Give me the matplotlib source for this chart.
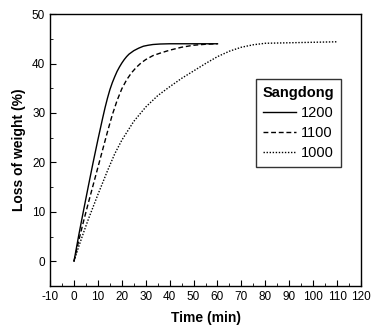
import numpy as np
import matplotlib
matplotlib.use('Agg')
import matplotlib.pyplot as plt
from matplotlib.ticker import MultipleLocator

plt.rcParams['font.family'] = ['Liberation Sans', 'DejaVu Sans']
plt.rcParams['axes.unicode_minus'] = False

# Loss of weight (%) vs time (min), Sangdong ore at three temperatures
t_1200 = [0, 2, 4, 6, 8, 10, 11, 12, 13, 14, 15, 16, 17, 18, 19, 20, 21, 22, 23, 25, 27, 29, 31, 33, 36, 40, 50, 60]
w_1200 = [0, 5.3, 10.3, 15.2, 20.0, 24.6, 26.8, 29.0, 31.1, 33.0, 34.7, 36.1, 37.3, 38.4, 39.3, 40.1, 40.8, 41.4, 41.9, 42.6, 43.1, 43.5, 43.7, 43.85, 43.95, 44.0, 44.0, 44.0]

t_1100 = [0, 2, 4, 6, 8, 10, 12, 14, 16, 18, 20, 22, 24, 26, 28, 30, 33, 36, 40, 45, 50, 55, 60]
w_1100 = [0, 4.2, 8.1, 11.8, 15.4, 19.0, 22.6, 26.2, 29.6, 32.5, 34.9, 36.7, 38.1, 39.2, 40.1, 40.8, 41.6, 42.1, 42.7, 43.3, 43.7, 43.9, 44.0]

t_1000 = [0, 2, 4, 6, 8, 10, 12, 14, 17, 20, 25, 30, 35, 40, 45, 50, 55, 60, 65, 70, 75, 80, 90, 100, 110]
w_1000 = [0, 3, 5.8, 8.5, 11, 13.5, 15.9, 18.3, 21.7, 24.5, 28.3, 31.2, 33.5, 35.3, 37.0, 38.5, 40.0, 41.4, 42.5, 43.3, 43.8, 44.1, 44.2, 44.3, 44.4]

series = [
    ('1200', t_1200, w_1200, '-'),
    ('1100', t_1100, w_1100, (0, (3.5, 2))),
    ('1000', t_1000, w_1000, (0, (1, 1.2))),
]


def main():
    fig = plt.figure(figsize=(3.71, 3.36), dpi=100)
    ax = fig.add_axes([0.135, 0.149, 0.838, 0.809])

    for label, t, w, ls in series:
        ax.plot(t, w, color='black', linestyle=ls, linewidth=1.0, label=label)

    ax.set_xlim(-10, 120)
    ax.set_ylim(-5, 50)
    ax.xaxis.set_major_locator(MultipleLocator(10))
    ax.xaxis.set_minor_locator(MultipleLocator(5))
    ax.yaxis.set_major_locator(MultipleLocator(10))
    ax.yaxis.set_minor_locator(MultipleLocator(5))
    ax.tick_params(which='both', direction='in', labelsize=8.5)
    ax.tick_params(which='major', length=4)
    ax.tick_params(which='minor', length=2)
    for s in ax.spines.values():
        s.set_linewidth(1.0)

    ax.set_xlabel('Time (min)', fontsize=10, fontweight='bold', labelpad=6)
    ax.set_ylabel('Loss of weight (%)', fontsize=10, fontweight='bold', labelpad=4)

    leg = ax.legend(title='Sangdong', loc='upper left', bbox_to_anchor=(0.662, 0.761),
                    borderaxespad=0, fontsize=10.5, frameon=True, fancybox=False,
                    edgecolor='black', handlelength=2.3, handletextpad=0.3,
                    borderpad=0.45, labelspacing=0.42)
    leg.get_title().set_fontweight('bold')
    leg.get_title().set_fontsize(10.5)
    leg.get_frame().set_linewidth(1.0)

    fig.savefig('out.png', dpi=100)
    plt.close(fig)


if __name__ == '__main__':
    main()
